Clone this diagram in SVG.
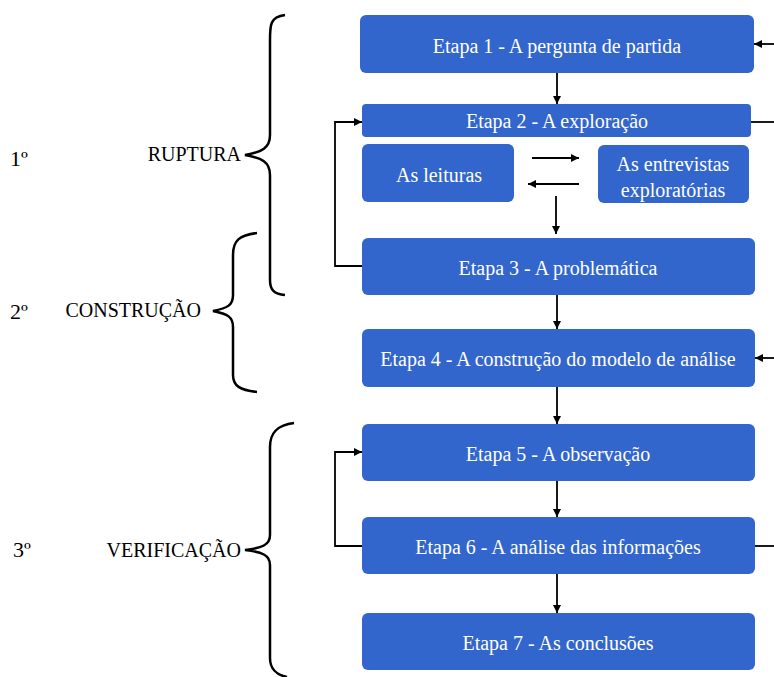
<svg xmlns="http://www.w3.org/2000/svg" width="774" height="677" viewBox="0 0 774 677">
<style>
.box{fill:#3366cc}
.c{fill:none;stroke:#000;stroke-width:1.8}
.br{fill:none;stroke:#000;stroke-width:2.5}
</style>
<defs>
<marker id="a" viewBox="0 0 10 10" refX="10" refY="5" markerWidth="8" markerHeight="8" orient="auto" markerUnits="userSpaceOnUse">
<path d="M0,0 L10,5 L0,10 z" fill="#000"/>
</marker>
</defs>
<rect width="774" height="677" fill="#fff"/>
<g id="brackets">
<path class="br" d="M285,15 C270,17 270,25 270,40 L270,135 C270,148 262,152 245,155 C262,158 270,162 270,175 L270,280 C270,290 274,294 285,295"/>
<path class="br" d="M257,233 C240,235 233,240 233,255 L233,295 C233,305 228,308 213,311 C228,314 233,317 233,327 L233,375 C233,386 240,390 257,392"/>
<path class="br" d="M294,423 C278,425 270,432 270,447 L270,535 C270,545 262,548 245,550 C262,552 270,555 270,565 L270,658 C270,668 276,675 287,677"/>
</g>
<g id="labels">
<text font-family="Liberation Serif" font-size="22" x="10" y="166">1º</text>
<text font-family="Liberation Serif" font-size="20" text-anchor="end" x="241" y="161">RUPTURA</text>
<text font-family="Liberation Serif" font-size="22" x="10" y="319">2º</text>
<text font-family="Liberation Serif" font-size="20" text-anchor="end" x="201" y="317">CONSTRUÇÃO</text>
<text font-family="Liberation Serif" font-size="22" x="13" y="557">3º</text>
<text font-family="Liberation Serif" font-size="20" text-anchor="end" x="241" y="557">VERIFICAÇÃO</text>
</g>
<g id="connectors">
<line class="c" x1="557" y1="73" x2="557" y2="104" marker-end="url(#a)"/>
<line class="c" x1="774" y1="44" x2="754" y2="44" marker-end="url(#a)"/>
<line class="c" x1="751" y1="122" x2="774" y2="122"/>
<polyline class="c" points="362,266 335,266 335,122 362,122" marker-end="url(#a)"/>
<line class="c" x1="532" y1="158" x2="579" y2="158" marker-end="url(#a)"/>
<line class="c" x1="579" y1="184" x2="528" y2="184" marker-end="url(#a)"/>
<line class="c" x1="556" y1="196" x2="556" y2="234" marker-end="url(#a)"/>
<line class="c" x1="557" y1="295" x2="557" y2="329" marker-end="url(#a)"/>
<line class="c" x1="774" y1="358" x2="755" y2="358" marker-end="url(#a)"/>
<line class="c" x1="557" y1="387" x2="557" y2="424" marker-end="url(#a)"/>
<polyline class="c" points="362,546 335,546 335,452 362,452" marker-end="url(#a)"/>
<line class="c" x1="755" y1="546" x2="774" y2="546"/>
<line class="c" x1="557" y1="481" x2="557" y2="517" marker-end="url(#a)"/>
<line class="c" x1="557" y1="574" x2="557" y2="613" marker-end="url(#a)"/>
</g>
<g id="nodes" font-family="Liberation Serif" font-size="20" fill="#fff" text-anchor="middle">
<g id="etapa1"><rect class="box" x="360" y="15" width="394" height="58" rx="6"/><text x="557" y="53">Etapa 1 - A pergunta de partida</text></g>
<g id="etapa2"><rect class="box" x="362" y="104" width="389" height="33" rx="4"/><text x="557" y="128">Etapa 2 - A exploração</text></g>
<g id="leituras"><rect class="box" x="362" y="144" width="152" height="58" rx="6"/><text x="439" y="182">As leituras</text></g>
<g id="entrevistas"><rect class="box" x="598" y="145" width="151" height="58" rx="6"/><text x="673" y="171">As entrevistas</text><text x="673" y="197">exploratórias</text></g>
<g id="etapa3"><rect class="box" x="362" y="238" width="393" height="57" rx="6"/><text x="558" y="275">Etapa 3 - A problemática</text></g>
<g id="etapa4"><rect class="box" x="362" y="329" width="393" height="58" rx="6"/><text x="558" y="366">Etapa 4 - A construção do modelo de análise</text></g>
<g id="etapa5"><rect class="box" x="362" y="424" width="393" height="57" rx="6"/><text x="558" y="461">Etapa 5 - A observação</text></g>
<g id="etapa6"><rect class="box" x="362" y="517" width="393" height="57" rx="6"/><text x="558" y="554">Etapa 6 - A análise das informações</text></g>
<g id="etapa7"><rect class="box" x="362" y="613" width="393" height="57" rx="6"/><text x="558" y="650">Etapa 7 - As conclusões</text></g>
</g>
</svg>
